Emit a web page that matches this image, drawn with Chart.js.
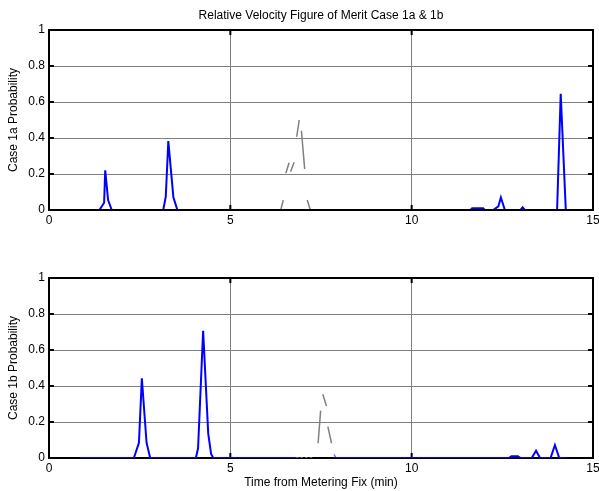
<!DOCTYPE html>
<html>
<head>
<meta charset="utf-8">
<script src="https://cdn.jsdelivr.net/npm/chart.js@4.4.0/dist/chart.umd.min.js"></script>
<style>
  html, body { margin: 0; padding: 0; background: #fff; }
  canvas { display: block; }
</style>
</head>
<body>
<canvas id="case1a" width="599" height="240"></canvas>
<canvas id="case1b" width="599" height="251"></canvas>
<script>
// axis ticks (shared by both panels)
var xTicks = [0, 5, 10, 15];
var xTickLabels = ['0', '5', '10', '15'];
var yTicks = [0, 0.2, 0.4, 0.6, 0.8, 1];
var yTickLabels = ['0', '0.2', '0.4', '0.6', '0.8', '1'];

// case 1a - solid blue probability trace
var case1aTime = [1.39, 1.52, 1.55, 1.63, 1.73, 3.15, 3.22, 3.29, 3.43, 3.54,
  11.62, 11.67, 11.97, 12.02, 12.25, 12.39, 12.46, 12.57, 13.0, 13.06, 13.12,
  14.01, 14.11, 14.25];
var case1aProb = [0, 0.04, 0.22, 0.055, 0, 0, 0.074, 0.383, 0.07, 0,
  0, 0.01, 0.01, 0, 0, 0.02, 0.07, 0, 0, 0.015, 0,
  0, 0.645, 0];

// case 1a - grey broken trace (null = gap in the data)
var case1aRefTime = [6.39, 6.46, 6.46, 6.53, 6.62, 6.62, 6.66, 6.76, 6.76,
  6.83, 6.90, 6.90, 6.96, 7.05, 7.05, 7.12, 7.20];
var case1aRefProb = [0, 0.055, null, 0.204, 0.263, null, 0.213, 0.265, null,
  0.407, 0.5, null, 0.44, 0.228, null, 0.055, 0.004];

// case 1b - solid blue probability trace
var case1bTime = [0.855, 2.34, 2.48, 2.56, 2.69, 2.79, 4.05, 4.11, 4.25, 4.39,
  4.47, 4.53, 6.80, 6.80, 7.84, 12.68, 12.75, 12.93, 13.0, 13.31, 13.43, 13.54,
  13.83, 13.95, 14.07, 14.27];
var case1bProb = [0, 0, 0.085, 0.443, 0.085, 0, 0, 0.054, 0.707, 0.137,
  0.022, 0, 0, null, 0, 0, 0.01, 0.01, 0, 0, 0.04, 0,
  0, 0.072, 0, 0];

// case 1b - grey broken trace
var case1bRefTime = [6.80, 6.88, 6.88, 6.93, 7.00, 7.00, 7.06, 7.13, 7.13,
  7.19, 7.26, 7.26, 7.42, 7.49, 7.49, 7.55, 7.65, 7.65, 7.69, 7.79, 7.79,
  7.86, 7.91];
var case1bRefProb = [0, 0, null, 0, 0, null, 0, 0, null,
  0, 0, null, 0.082, 0.263, null, 0.354, 0.289, null, 0.174, 0.082, null,
  0.02, 0];

Chart.defaults.font.family = '"Liberation Sans", Arial, Helvetica, sans-serif';
Chart.defaults.font.size = 12;
Chart.defaults.color = '#000';

function toPoints(t, v) {
  return t.map(function (x, i) { return { x: x, y: v[i] }; });
}

// black frame + inward tick marks, matlab style
function drawFrame(chart) {
  var a = chart.chartArea, ctx = chart.ctx;
  var xs = chart.scales.x, ys = chart.scales.y;
  ctx.save();
  ctx.strokeStyle = '#000';
  ctx.lineWidth = 2;
  ctx.strokeRect(a.left, a.top, a.right - a.left, a.bottom - a.top);
  ctx.beginPath();
  xs.ticks.forEach(function (t) {
    var px = xs.getPixelForValue(t.value);
    ctx.moveTo(px, a.top); ctx.lineTo(px, a.top + 5);
    ctx.moveTo(px, a.bottom); ctx.lineTo(px, a.bottom - 5);
  });
  ys.ticks.forEach(function (t) {
    var py = ys.getPixelForValue(t.value);
    ctx.moveTo(a.left, py); ctx.lineTo(a.left + 5, py);
    ctx.moveTo(a.right, py); ctx.lineTo(a.right - 5, py);
  });
  ctx.stroke();
  ctx.restore();
}

var framePlugin = {
  id: 'frame',
  beforeDatasetsDraw: function (chart, args, opts) { if (!opts.onTop) drawFrame(chart); },
  afterDatasetsDraw: function (chart, args, opts) { if (opts.onTop) drawFrame(chart); }
};

function gridColor(edgeA, edgeB) {
  return function (c) {
    var v = c.tick ? c.tick.value : null;
    return (v === edgeA || v === edgeB) ? 'rgba(0,0,0,0)' : '#808080';
  };
}

function makeChart(id, opts) {
  return new Chart(document.getElementById(id), {
    type: 'line',
    data: {
      datasets: [{
        data: toPoints(opts.time, opts.prob),
        borderColor: '#0000ff',
        borderWidth: 2,
        pointRadius: 0,
        tension: 0,
        spanGaps: false
      }, {
        data: toPoints(opts.refTime, opts.refProb),
        borderColor: '#808080',
        borderWidth: 1.5,
        pointRadius: 0,
        tension: 0,
        spanGaps: false
      }]
    },
    options: {
      responsive: false,
      animation: false,
      events: [],
      layout: { padding: { left: 0, right: 6, top: opts.padTop, bottom: 0 } },
      plugins: {
        legend: { display: false },
        tooltip: { enabled: false },
        title: opts.title ? {
          display: true,
          fullSize: false,
          text: opts.title,
          color: '#000',
          font: { size: 12, weight: 'normal', lineHeight: 1.2 },
          padding: { top: 8.8, bottom: 6.8 }
        } : { display: false },
        frame: { onTop: opts.frameOnTop }
      },
      scales: {
        x: {
          type: 'linear',
          min: 0,
          max: 15,
          afterBuildTicks: function (s) { s.ticks = xTicks.map(function (v) { return { value: v }; }); },
          ticks: {
            padding: 3,
            maxRotation: 0,
            color: '#000',
            callback: function (v, i) { return xTickLabels[i]; }
          },
          grid: { drawTicks: false, color: gridColor(0, 15), lineWidth: 1 },
          border: { display: false },
          title: opts.xTitle ? {
            display: true,
            text: opts.xTitle,
            color: '#000',
            font: { size: 12 },
            padding: { top: 0, bottom: 1.5 }
          } : { display: false },
          afterFit: function (s) {
            s.height = opts.xHeight;
            s.paddingLeft = 0;
            s.paddingRight = 0;
          }
        },
        y: {
          min: 0,
          max: 1,
          afterBuildTicks: function (s) { s.ticks = yTicks.map(function (v) { return { value: v }; }); },
          ticks: {
            padding: 4,
            color: '#000',
            callback: function (v, i) { return yTickLabels[i]; }
          },
          grid: { drawTicks: false, color: gridColor(0, 1), lineWidth: 1 },
          border: { display: false },
          title: {
            display: true,
            text: opts.yTitle,
            color: '#000',
            font: { size: 12 },
            padding: { top: 6.5, bottom: 0 }
          },
          afterFit: function (s) { s.width = 49; }
        }
      }
    },
    plugins: [framePlugin]
  });
}

makeChart('case1a', {
  time: case1aTime, prob: case1aProb,
  refTime: case1aRefTime, refProb: case1aRefProb,
  title: 'Relative Velocity Figure of Merit Case 1a & 1b',
  yTitle: 'Case 1a Probability',
  xTitle: null,
  xHeight: 30,
  padTop: 0,
  frameOnTop: true
});

makeChart('case1b', {
  time: case1bTime, prob: case1bProb,
  refTime: case1bRefTime, refProb: case1bRefProb,
  title: null,
  yTitle: 'Case 1b Probability',
  xTitle: 'Time from Metering Fix (min)',
  xHeight: 33,
  padTop: 38,
  frameOnTop: false
});
</script>
</body>
</html>
